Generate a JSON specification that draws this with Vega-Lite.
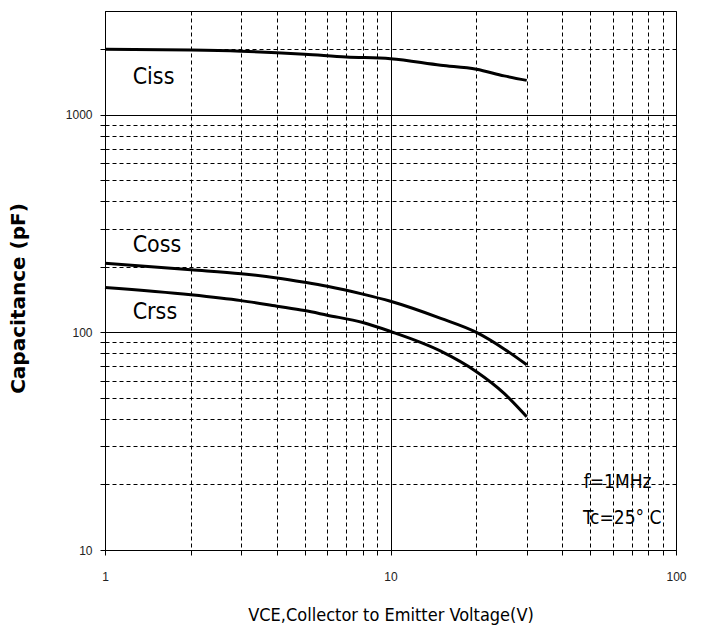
{
  "$schema": "https://vega.github.io/schema/vega-lite/v6.json",
  "width": 571,
  "height": 539,
  "autosize": {"type": "none"},
  "padding": {"left": 105, "top": 11, "right": 26, "bottom": 92},
  "background": "white",
  "config": {
    "view": {"stroke": "#000", "strokeWidth": 1},
    "font": "Liberation Sans"
  },
  "datasets": {
    "curves": [
      {"series": "Ciss", "v": 1, "c": 2000},
      {"series": "Ciss", "v": 2, "c": 1985},
      {"series": "Ciss", "v": 3, "c": 1960},
      {"series": "Ciss", "v": 4, "c": 1930},
      {"series": "Ciss", "v": 5, "c": 1900},
      {"series": "Ciss", "v": 7, "c": 1845},
      {"series": "Ciss", "v": 10, "c": 1810},
      {"series": "Ciss", "v": 15, "c": 1690},
      {"series": "Ciss", "v": 20, "c": 1620},
      {"series": "Ciss", "v": 25, "c": 1510},
      {"series": "Ciss", "v": 30, "c": 1440},
      {"series": "Coss", "v": 1, "c": 208},
      {"series": "Coss", "v": 2, "c": 194},
      {"series": "Coss", "v": 3, "c": 186},
      {"series": "Coss", "v": 4, "c": 178},
      {"series": "Coss", "v": 5, "c": 170},
      {"series": "Coss", "v": 6, "c": 163},
      {"series": "Coss", "v": 8, "c": 150},
      {"series": "Coss", "v": 10, "c": 139},
      {"series": "Coss", "v": 15, "c": 116},
      {"series": "Coss", "v": 20, "c": 100},
      {"series": "Coss", "v": 25, "c": 84},
      {"series": "Coss", "v": 30, "c": 71},
      {"series": "Crss", "v": 1, "c": 161},
      {"series": "Crss", "v": 2, "c": 149},
      {"series": "Crss", "v": 3, "c": 140},
      {"series": "Crss", "v": 4, "c": 132},
      {"series": "Crss", "v": 5, "c": 126},
      {"series": "Crss", "v": 6, "c": 120},
      {"series": "Crss", "v": 8, "c": 111},
      {"series": "Crss", "v": 10, "c": 101},
      {"series": "Crss", "v": 15, "c": 82},
      {"series": "Crss", "v": 20, "c": 66},
      {"series": "Crss", "v": 25, "c": 52.5},
      {"series": "Crss", "v": 30, "c": 41}
    ],
    "labels": [
      {"text": "Ciss", "x": 1.25, "y": 1500, "group": "curve"},
      {"text": "Coss", "x": 1.25, "y": 252, "group": "curve"},
      {"text": "Crss", "x": 1.25, "y": 124, "group": "curve"},
      {"text": "f=1MHz", "x": 47.5, "y": 20.6, "group": "cond"},
      {"text": "Tc=25° C", "x": 47.2, "y": 14.0, "group": "cond"}
    ]
  },
  "layer": [
    {
      "data": {"name": "curves"},
      "mark": {"type": "line", "color": "#000", "strokeWidth": 3, "interpolate": "monotone"},
      "encoding": {
        "x": {
          "field": "v", "type": "quantitative",
          "scale": {"type": "log", "domain": [1, 100], "nice": false},
          "axis": {
            "values": [1, 2, 3, 4, 5, 6, 7, 8, 9, 10, 20, 30, 40, 50, 60, 70, 80, 90, 100],
            "labelExpr": "datum.value == 1 || datum.value == 10 || datum.value == 100 ? format(datum.value, 'd') : ''",
            "grid": true,
            "gridColor": "#000",
            "gridOpacity": 1,
            "gridWidth": 1,
            "gridDash": {"condition": {"test": "datum.value == 10", "value": []}, "value": [4, 3]},
            "domainColor": "#000",
            "tickColor": "#000",
            "tickSize": 5,
            "labelFontSize": 12,
            "labelColor": "#222",
            "labelPadding": 16,
            "labelFlush": false,
            "title": "VCE,Collector to Emitter Voltage(V)",
            "titleFont": "'Liberation Sans Narrow', 'DejaVu Sans Condensed', 'Liberation Sans', sans-serif",
            "titleFontSize": 18,
            "titleFontWeight": "normal",
            "titleColor": "#000",
            "titleBaseline": "middle",
            "titleY": 65
          }
        },
        "y": {
          "field": "c", "type": "quantitative",
          "scale": {"type": "log", "domain": [10, 3000], "nice": false},
          "axis": {
            "values": [10, 20, 30, 40, 50, 60, 70, 80, 90, 100, 200, 300, 400, 500, 600, 700, 800, 900, 1000, 2000],
            "labelExpr": "datum.value == 10 || datum.value == 100 || datum.value == 1000 ? format(datum.value, 'd') : ''",
            "grid": true,
            "gridColor": "#000",
            "gridOpacity": 1,
            "gridWidth": 1,
            "gridDash": {"condition": {"test": "datum.value == 100 || datum.value == 1000", "value": []}, "value": [4, 3]},
            "domainColor": "#000",
            "tickColor": "#000",
            "tickSize": 5,
            "labelFontSize": 12,
            "labelColor": "#222",
            "labelPadding": 8,
            "labelFlush": false,
            "title": "Capacitance (pF)",
            "titleFont": "DejaVu Sans",
            "titleFontSize": 20,
            "titleFontWeight": "bold",
            "titleColor": "#000",
            "titleBaseline": "middle",
            "titleX": -87,
            "titleY": 287
          }
        },
        "detail": {"field": "series"}
      }
    },
    {
      "data": {"name": "labels"},
      "transform": [{"filter": "datum.group == 'curve'"}],
      "mark": {"type": "text", "align": "left", "baseline": "middle", "font": "'Liberation Sans Narrow', 'DejaVu Sans Condensed', 'Liberation Sans', sans-serif", "fontSize": 23, "color": "#000"},
      "encoding": {
        "x": {"field": "x", "type": "quantitative"},
        "y": {"field": "y", "type": "quantitative"},
        "text": {"field": "text"}
      }
    },
    {
      "data": {"name": "labels"},
      "transform": [{"filter": "datum.group == 'cond'"}],
      "mark": {"type": "text", "align": "left", "baseline": "middle", "font": "'Liberation Sans Narrow', 'DejaVu Sans Condensed', 'Liberation Sans', sans-serif", "fontSize": 19, "color": "#000"},
      "encoding": {
        "x": {"field": "x", "type": "quantitative"},
        "y": {"field": "y", "type": "quantitative"},
        "text": {"field": "text"}
      }
    }
  ]
}
